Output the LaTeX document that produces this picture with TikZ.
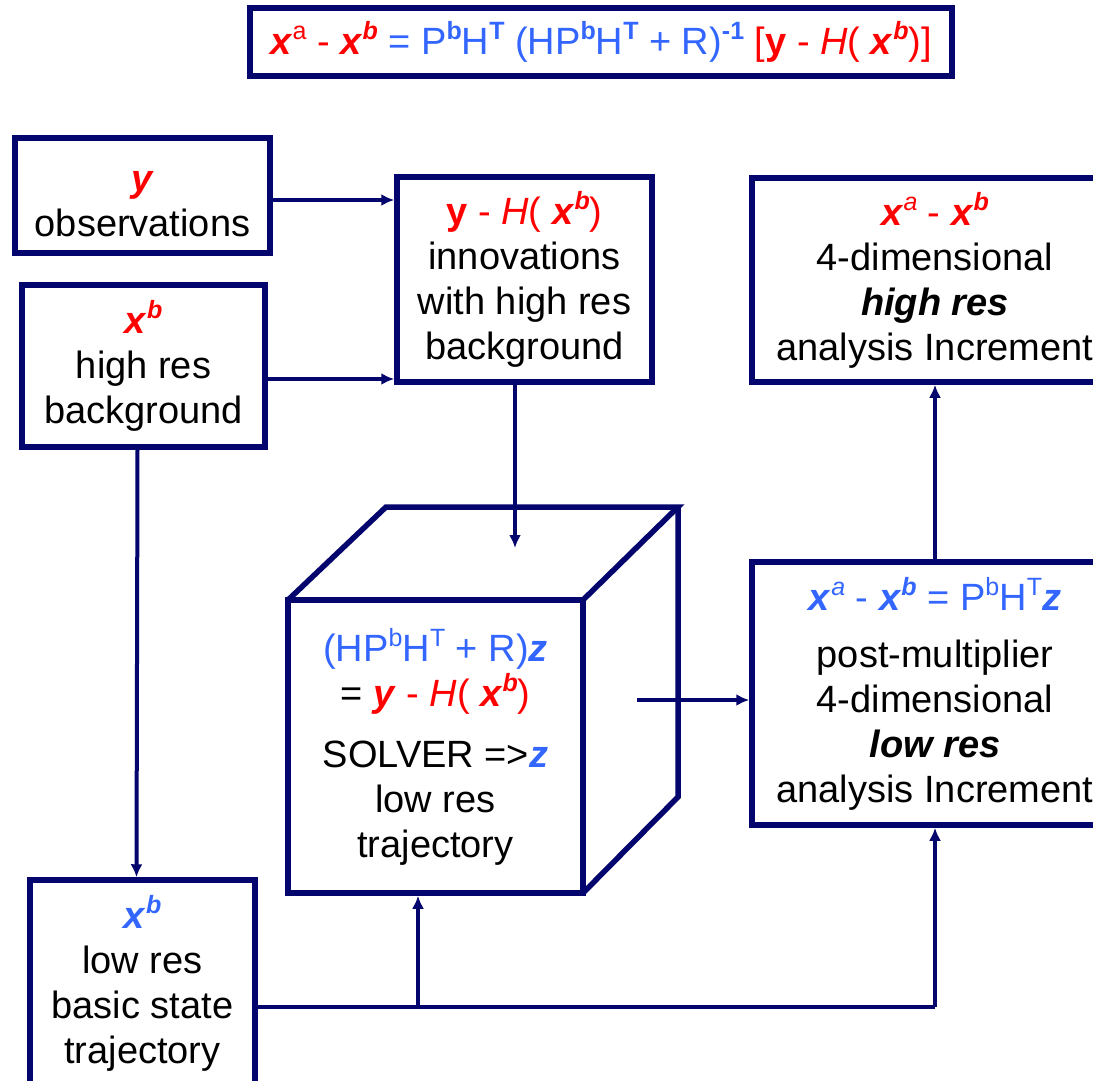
\documentclass[tikz,border=0pt]{standalone}
\usepackage{fontspec}
\setmainfont{Liberation Sans}
\usetikzlibrary{arrows.meta,calc}
\definecolor{navy}{RGB}{5,5,110}
\definecolor{myblue}{RGB}{51,102,255}
\definecolor{myred}{RGB}{255,0,0}
\newcommand\supr[1]{\raisebox{0.4em}{\fontsize{25}{25}\selectfont #1}}
\newcommand\bi[1]{\textbf{\textit{#1}}}
\tikzset{
  box/.style={draw=navy, line width=5.5pt, fill=white, align=center, inner sep=0pt,
    font=\fontsize{38}{45}\selectfont},
  conn/.style={draw=navy, line width=4pt},
  arr/.style={conn, -{Latex[length=13pt,width=12pt]}}
}
\begin{document}
\begin{tikzpicture}[x=1pt,y=-1pt]
\useasboundingbox (0,0) rectangle (1093,1081);
\fill[white] (0,0) rectangle (1093,1081);
\clip (0,0) rectangle (1093,1081);

% top formula
\node[box, minimum width=702pt, minimum height=68pt] (formula) at (601,42)
 {{\color{myred}\bi{x}\supr{a} - \bi{x}\supr{\bi{b}}} {\color{myblue}= P\supr{\textbf{b}}H\supr{\textbf{T}} (HP\supr{\textbf{b}}H\supr{\textbf{T}} + R)\supr{\textbf{-1}}} {\color{myred}[\textbf{y} - \textit{H}( \bi{x}\supr{\bi{b}})]}};

% left boxes
\node[box, minimum width=255pt, minimum height=115pt] (obs) at (142.5,195.5)
 {\rule{0pt}{38pt}{\color{myred}\bi{y}}\\observations};
\node[box, minimum width=243pt, minimum height=162pt] (xbh) at (143.5,366)
 {{\color{myred}\bi{x}\supr{\bi{b}}}\\high res\\background};
\node[box, minimum width=225pt, minimum height=206pt] (lowres) at (142.5,983)
 {{\color{myblue}\bi{x}\supr{\bi{b}}}\\low res\\basic state\\trajectory};

% innovations
\node[box, minimum width=255pt, minimum height=205pt] (innov) at (524.5,279.5)
 {{\color{myred}\textbf{y} - \textit{H}( \bi{x}\supr{\bi{b}})}\\innovations\\with high res\\background};

% right boxes
\node[box, minimum width=366pt, minimum height=204pt] (highinc) at (935,280)
 {{\color{myred}\bi{x}\supr{\textit{a}} - \bi{x}\supr{\bi{b}}}\\4-dimensional\\\bi{high res}\\analysis Increment};
\node[box, minimum width=366pt, minimum height=263pt] (lowinc) at (935,693.5)
 {{\color{myblue}\bi{x}\supr{\textit{a}} - \bi{x}\supr{\bi{b}} = P\supr{b}H\supr{T}\bi{z}}\\[12pt]post-multiplier\\4-dimensional\\\bi{low res}\\analysis Increment};

% cube
\coordinate (ftl) at (288,600);
\coordinate (ftr) at (583,600);
\coordinate (fbr) at (583,893);
\coordinate (btl) at (386,507);
\coordinate (btr) at (678,507);
\coordinate (bbr) at (678,797);
\draw[navy, line width=5.5pt, line join=miter] (ftl) -- (btl) -- (btr) -- (ftr);
\draw[navy, line width=5.5pt, line join=miter] (btr) -- (bbr) -- (fbr);
\node[box, minimum width=295pt, minimum height=293pt] (solver) at (435.5,746.5)
 {{\color{myblue}(HP\supr{b}H\supr{T} + R)\bi{z}}\\= {\color{myred}\bi{y} - \textit{H}( \bi{x}\supr{\bi{b}})}\\[16pt]SOLVER =>{\color{myblue}\bi{z}}\\low res\\trajectory};

% connectors
\draw[arr] (obs.east |- 0,200) -- (innov.west |- 0,200);
\draw[arr] ([yshift=-13pt]xbh.east) -- ([yshift=-13pt]xbh.east -| innov.west);
\coordinate (topin) at (515,548);
\draw[arr] (innov.south -| topin) -- (topin);
\draw[arr] ([xshift=-6pt]xbh.south) -- ([xshift=-6pt]lowres.north);
\coordinate (cubeout) at (637,700);
\draw[arr] (cubeout) -- (cubeout -| lowinc.west);
\draw[arr] (lowinc.north) -- (highinc.south);
\coordinate (j1) at (418,1007);
\coordinate (j2) at (935,1007);
\draw[conn] (lowres.east |- j1) -- (j2);
\draw[arr] (j1) -- (j1 |- solver.south);
\draw[arr] (j2) -- (lowinc.south);
\end{tikzpicture}
\end{document}
